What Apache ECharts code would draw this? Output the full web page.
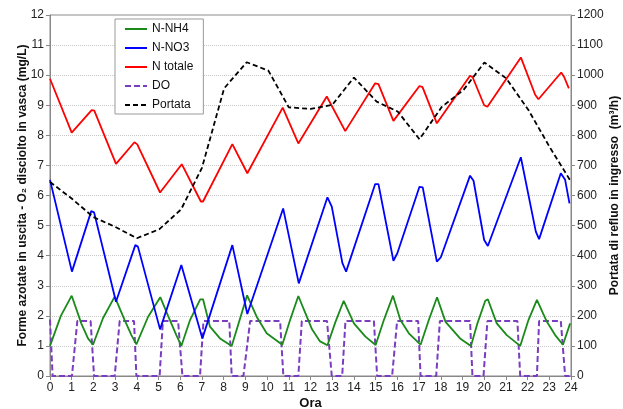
<!DOCTYPE html>
<html>
<head>
<meta charset="utf-8">
<script src="https://cdn.jsdelivr.net/npm/echarts@6/dist/echarts.min.js"></script>
<style>
  html, body { margin: 0; padding: 0; background: #fff; }
  #chart { width: 623px; height: 409px; }
</style>
</head>
<body>
<div id="chart"></div>
<script>
// hours (x) and values (y), one pair of arrays per series
const nh4Hours = [0, 0.5, 1.0, 1.44, 1.75, 1.98, 2.44, 2.98, 3.44, 3.75, 3.98, 4.52, 5.08, 5.44, 5.82, 6.05, 6.45, 6.92, 7.05, 7.37, 7.83, 8.37, 9.08, 9.52, 9.98, 10.7, 11.06, 11.44, 11.9, 12.07, 12.44, 12.78, 13.15, 13.53, 13.6, 14.0, 14.53, 15.0, 15.38, 15.8, 16.14, 16.53, 17.07, 17.45, 17.83, 18.22, 18.89, 19.39, 19.69, 20.05, 20.17, 20.58, 21.04, 21.66, 22.04, 22.43, 22.89, 23.27, 23.63, 23.96];
const nh4Values = [1.0, 2.0, 2.67, 1.75, 1.25, 1.04, 1.92, 2.64, 1.86, 1.36, 1.05, 1.97, 2.62, 2.0, 1.36, 1.0, 1.86, 2.55, 2.55, 1.64, 1.25, 1.0, 2.68, 1.97, 1.42, 1.04, 1.86, 2.66, 1.85, 1.55, 1.15, 1.02, 1.8, 2.5, 2.56, 1.75, 1.31, 1.03, 1.86, 2.67, 1.86, 1.42, 1.04, 1.86, 2.62, 1.8, 1.25, 1.0, 1.75, 2.5, 2.55, 1.75, 1.36, 1.0, 1.86, 2.53, 1.8, 1.36, 1.04, 1.75];

const no3Hours = [0, 1.01, 1.9, 2.03, 3.04, 3.93, 4.05, 5.07, 6.05, 7.02, 8.4, 9.09, 10.74, 11.46, 12.78, 12.98, 13.47, 13.64, 14.98, 15.13, 15.82, 16.0, 17.02, 17.17, 17.82, 18.0, 19.35, 19.51, 20.0, 20.17, 21.69, 22.38, 22.53, 23.53, 23.73, 23.93];
const no3Values = [6.52, 3.47, 5.48, 5.44, 2.47, 4.35, 4.3, 1.55, 3.69, 1.25, 4.35, 2.06, 5.57, 3.08, 5.94, 5.63, 3.75, 3.47, 6.38, 6.38, 3.83, 4.08, 6.29, 6.27, 3.8, 3.94, 6.66, 6.49, 4.52, 4.32, 7.27, 4.8, 4.55, 6.74, 6.52, 5.74];

const ntotHours = [0, 1.0, 1.92, 2.04, 3.04, 3.89, 4.02, 5.07, 6.07, 6.95, 7.05, 8.4, 9.09, 10.72, 11.44, 12.75, 13.6, 14.98, 15.13, 15.82, 17.02, 17.16, 17.82, 19.35, 19.47, 20.0, 20.15, 21.69, 22.35, 22.5, 23.55, 23.69, 23.9];
const ntotValues = [9.88, 8.09, 8.84, 8.82, 7.05, 7.77, 7.7, 6.1, 7.04, 5.8, 5.8, 7.71, 6.74, 8.92, 7.73, 9.29, 8.14, 9.73, 9.7, 8.48, 9.64, 9.6, 8.4, 9.98, 9.93, 9.0, 8.95, 10.59, 9.35, 9.2, 10.09, 9.93, 9.56];

const doHours = [0, 0.12, 1.01, 1.26, 1.87, 2.03, 2.98, 3.21, 3.87, 3.98, 5.05, 5.2, 5.9, 6.1, 6.91, 7.07, 8.26, 8.37, 8.91, 9.22, 10.6, 10.75, 11.44, 11.6, 12.76, 12.98, 13.46, 13.61, 14.92, 15.07, 15.76, 15.99, 16.96, 17.07, 17.79, 17.96, 19.35, 19.46, 19.97, 20.15, 21.53, 21.66, 22.43, 22.53, 23.53, 23.73, 23.93];
const doValues = [1.88, 0, 0, 1.83, 1.83, 0, 0, 1.83, 1.83, 0, 0, 1.83, 1.83, 0, 0, 1.83, 1.83, 0, 0, 1.83, 1.83, 0, 0, 1.83, 1.83, 0, 0, 1.83, 1.83, 0, 0, 1.83, 1.83, 0, 0, 1.83, 1.83, 0, 0, 1.83, 1.83, 0, 0, 1.83, 1.83, 0, 0];

const portataHours = [0, 1, 2, 3, 4, 5.04, 6.04, 7, 8.02, 9.06, 10.06, 11, 12, 13, 14, 15.05, 16.02, 17.02, 18.05, 19.05, 20.01, 21.01, 22.04, 23.01, 24];
const portataValues = [645, 590, 528, 496, 458, 488, 554, 692, 956, 1043, 1015, 893, 888, 901, 992, 912, 879, 787, 895, 951, 1042, 990, 884, 762, 646];

const seriesNames = ["N-NH4", "N-NO3", "N totale", "DO", "Portata"];
const seriesColors = ["#1a8a1a", "#0000ff", "#ff0000", "#7a3cc0", "#000000"];

function zip(xs, ys) {
  return xs.map((x, i) => [x, ys[i]]);
}

const chart = echarts.init(document.getElementById("chart"));

const axisText = { color: "#222", fontSize: 12, fontFamily: "Liberation Sans" };
const nameText = { color: "#111", fontSize: 12, fontWeight: "bold", fontFamily: "Liberation Sans" };

function lineSeries(idx, data, opts) {
  return Object.assign({
    name: seriesNames[idx],
    type: "line",
    data: data,
    showSymbol: false,
    symbol: "none",
    animation: false,
    color: seriesColors[idx],
    lineStyle: { color: seriesColors[idx], width: 1.8 },
  }, opts || {});
}

chart.setOption({
  animation: false,
  backgroundColor: "#fff",
  grid: {
    left: 50, right: 52, top: 15, bottom: 33,
    outerBoundsMode: "none",
    show: true, borderColor: "#888", borderWidth: 1,
  },
  legend: {
    orient: "vertical",
    left: 115,
    top: 19,
    data: seriesNames,
    itemWidth: 22,
    itemHeight: 14,
    itemGap: 7,
    padding: [4, 10, 3, 9],
    borderColor: "#999",
    borderWidth: 1,
    backgroundColor: "#fff",
    itemStyle: { opacity: 0 },
    textStyle: { color: "#111", fontSize: 12, fontFamily: "Liberation Sans" },
  },
  xAxis: {
    type: "value",
    min: 0,
    max: 24,
    interval: 1,
    name: "Ora",
    nameLocation: "middle",
    nameGap: 21,
    nameMoveOverlap: false,
    nameTextStyle: Object.assign({}, nameText, { fontSize: 13 }),
    axisLine: { lineStyle: { color: "#888" } },
    axisTick: { length: 4, lineStyle: { color: "#888" } },
    axisLabel: Object.assign({ margin: 6 }, axisText),
    splitLine: { show: false },
  },
  yAxis: [
    {
      type: "value",
      min: 0,
      max: 12,
      interval: 1,
      name: "Forme azotate in uscita - O\u2082 disciolto in vasca (mg/L)",
      nameLocation: "middle",
      nameRotate: 90,
      nameGap: 21,
      nameMoveOverlap: false,
      nameTextStyle: nameText,
      axisLine: { show: true, lineStyle: { color: "#888" } },
      axisTick: { show: true, length: 4, lineStyle: { color: "#888" } },
      axisLabel: Object.assign({ margin: 6 }, axisText),
      splitLine: { show: true, lineStyle: { color: "#c8c8c8", type: "dotted" } },
    },
    {
      type: "value",
      min: 0,
      max: 1200,
      interval: 100,
      position: "right",
      name: "Portata di refluo in ingresso  (m\u00b3/h)",
      nameLocation: "middle",
      nameRotate: 90,
      nameGap: 38,
      nameMoveOverlap: false,
      nameTextStyle: nameText,
      axisLine: { show: true, lineStyle: { color: "#888" } },
      axisTick: { show: true, length: 4, lineStyle: { color: "#888" } },
      axisLabel: Object.assign({ margin: 6, formatter: (v) => String(v) }, axisText),
      splitLine: { show: false },
    },
  ],
  series: [
    lineSeries(3, zip(doHours, doValues), { lineStyle: { color: seriesColors[3], width: 2, type: [6, 3] } }),
    lineSeries(0, zip(nh4Hours, nh4Values)),
    lineSeries(1, zip(no3Hours, no3Values)),
    lineSeries(2, zip(ntotHours, ntotValues)),
    lineSeries(4, zip(portataHours, portataValues), {
      yAxisIndex: 1,
      lineStyle: { color: seriesColors[4], width: 1.8, type: [5, 3] },
    }),
  ],
});
</script>
</body>
</html>
